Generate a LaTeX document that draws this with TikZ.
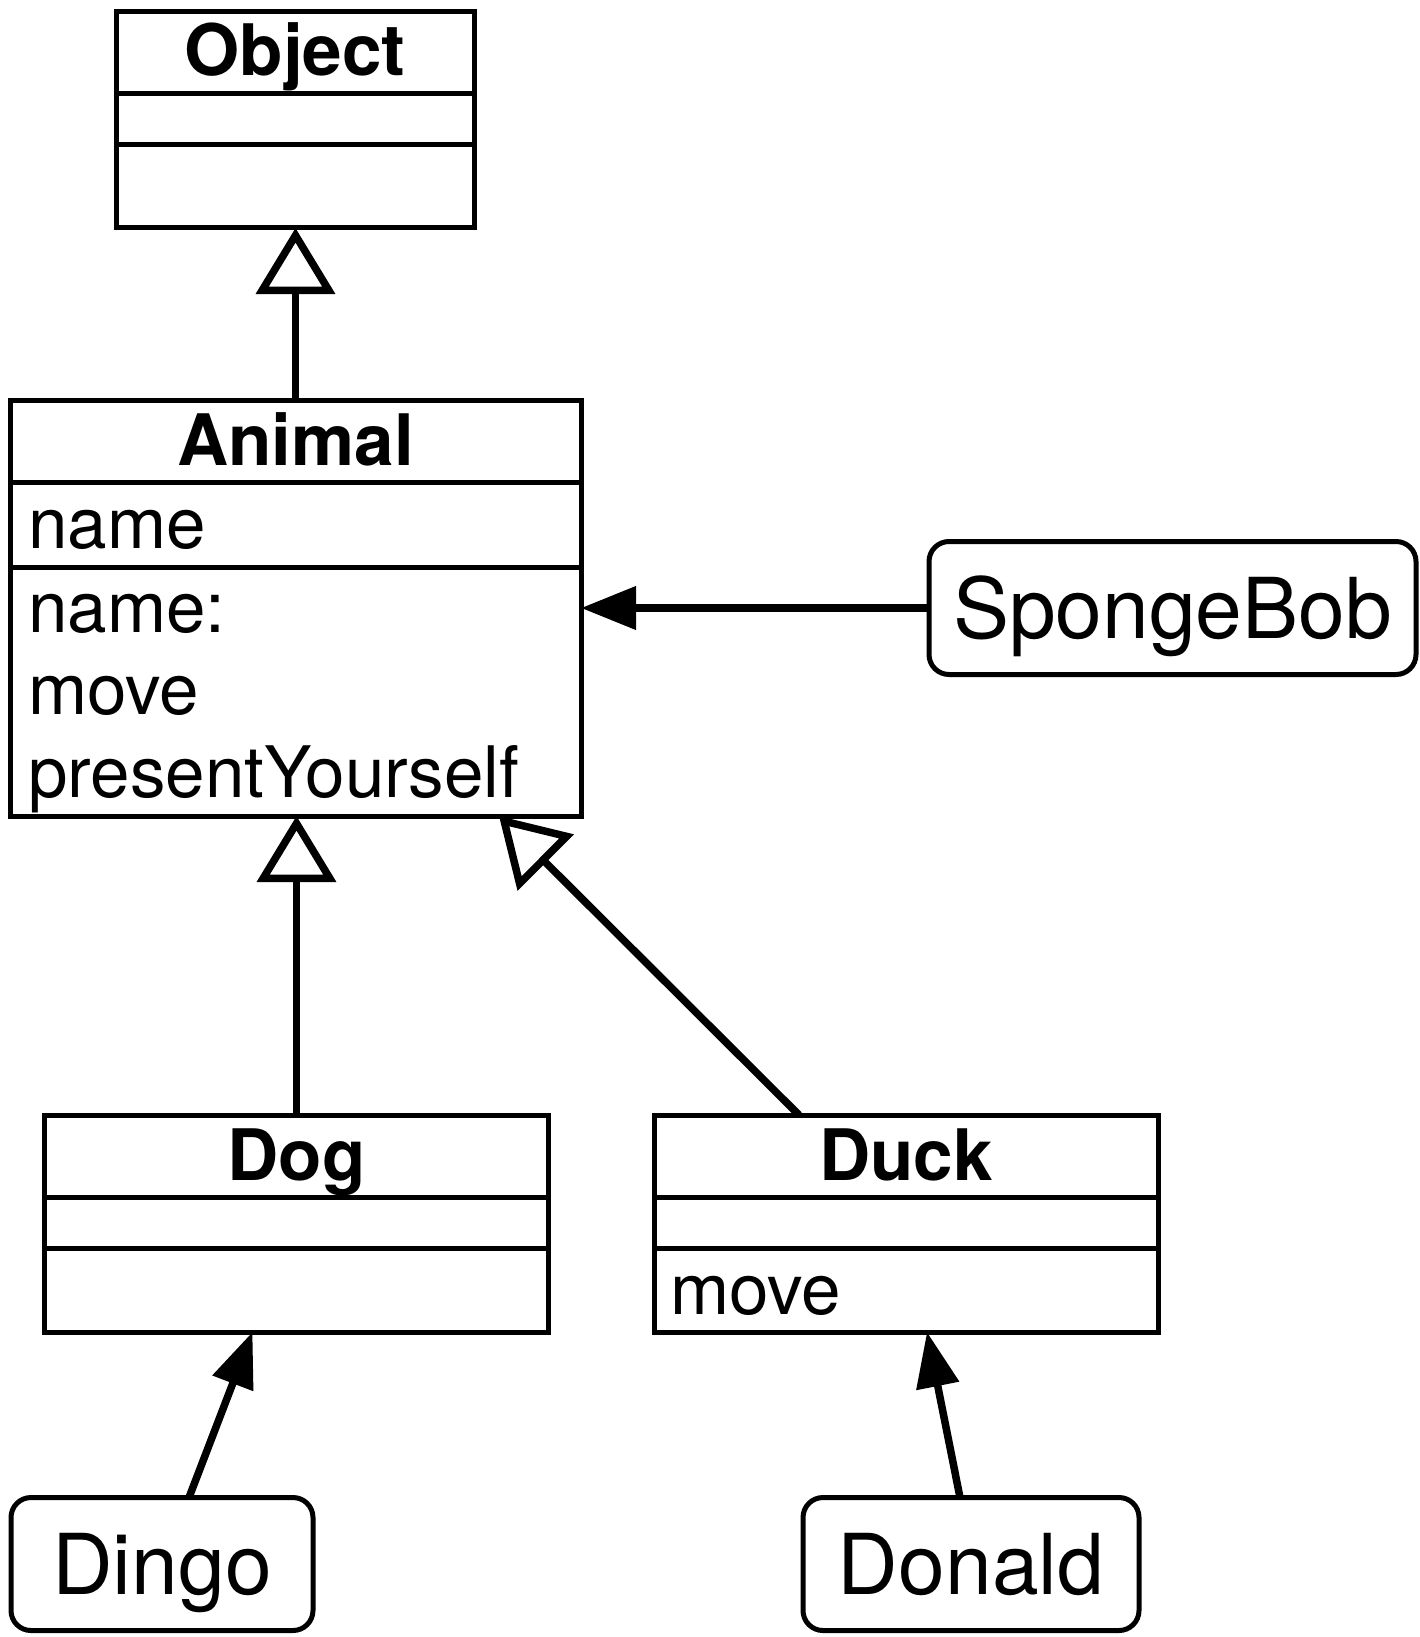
\documentclass[tikz,border=0pt]{standalone}
\usepackage{fontspec}
\setmainfont{TeX Gyre Heros}
\usetikzlibrary{positioning,arrows.meta}

\begin{document}
\begin{tikzpicture}[x=1pt,y=-1pt,
  umlclass/.style={draw,line width=5pt,anchor=north west,inner sep=0pt,outer sep=0pt},
  instbox/.style={draw,line width=5pt,rounded corners=20pt,inner sep=0pt,outer sep=0pt,
    minimum height=133pt,font=\fontsize{84}{92}\selectfont,text height=60pt,text depth=0pt},
  classname/.style={inner sep=0pt,anchor=base,font=\bfseries\fontsize{71}{82}\selectfont},
  member/.style={inner sep=0pt,anchor=base west,font=\fontsize{71}{82}\selectfont},
  inherit/.style={line width=7.5pt,-{Triangle[open,length=66pt,width=78pt]}},
  instof/.style={line width=7.5pt,-{Triangle[length=55pt,width=42pt]}}]
\useasboundingbox (0,0) rectangle (1420,1637);

\node[umlclass,minimum width=358pt,minimum height=216pt] (object) at (116,12) {};
\node[umlclass,minimum width=571pt,minimum height=416pt] (animal) at (10,400) {};
\node[umlclass,minimum width=504pt,minimum height=217pt] (dog) at (44.5,1115) {};
\node[umlclass,minimum width=504pt,minimum height=217pt] (duck) at (654,1115) {};

\foreach \c in {object,dog,duck} {
  \draw[line width=5pt] ([yshift=-82pt]\c.north west) -- ([yshift=-82pt]\c.north east);
  \draw[line width=5pt] ([yshift=-133pt]\c.north west) -- ([yshift=-133pt]\c.north east);
}
\draw[line width=5pt] ([yshift=-82pt]animal.north west) -- ([yshift=-82pt]animal.north east);
\draw[line width=5pt] ([yshift=-167pt]animal.north west) -- ([yshift=-167pt]animal.north east);

\node[classname] (objecttitle) at ([yshift=-64pt]object.north) {Object};
\node[classname] (animaltitle) at ([yshift=-65pt]animal.north) {Animal};
\node[classname] (dogtitle) at ([yshift=-65pt]dog.north) {Dog};
\node[classname] (ducktitle) at ([yshift=-65pt]duck.north) {Duck};

\node[member] (animalattr) at ([xshift=18pt,yshift=-148pt]animal.north west) {name};
\node[member] (animalop1) at ([xshift=18pt,yshift=-232pt]animal.north west) {name:};
\node[member] (animalop2) at ([xshift=18pt,yshift=-314pt]animal.north west) {move};
\node[member] (animalop3) at ([xshift=18pt,yshift=-397pt]animal.north west) {presentYourself};
\node[member] (duckop) at ([xshift=16pt,yshift=-199pt]duck.north west) {move};

\node[instbox,minimum width=487pt] (sponge) at (1172.5,608) {SpongeBob};
\node[instbox,minimum width=302pt] (dingo) at (162,1564) {Dingo};
\node[instbox,minimum width=336pt] (donald) at (971,1564) {Donald};

\coordinate (duckjoin) at ([xshift=145pt]duck.north west);
\coordinate (animaljoin) at ([xshift=489pt]animal.south west);

\draw[inherit] (animal.north) -- (animal.north |- object.south);
\draw[inherit] (dog.north) -- (dog.north |- animal.south);
\draw[inherit] (duckjoin) -- (animaljoin);
\draw[instof] (sponge.west) -- (sponge.west -| animal.east);
\draw[instof] ([xshift=27pt]dingo.north) -- ([xshift=-44pt]dog.south);
\draw[instof] ([xshift=-11pt]donald.north) -- ([xshift=21pt]duck.south);
\end{tikzpicture}
\end{document}
